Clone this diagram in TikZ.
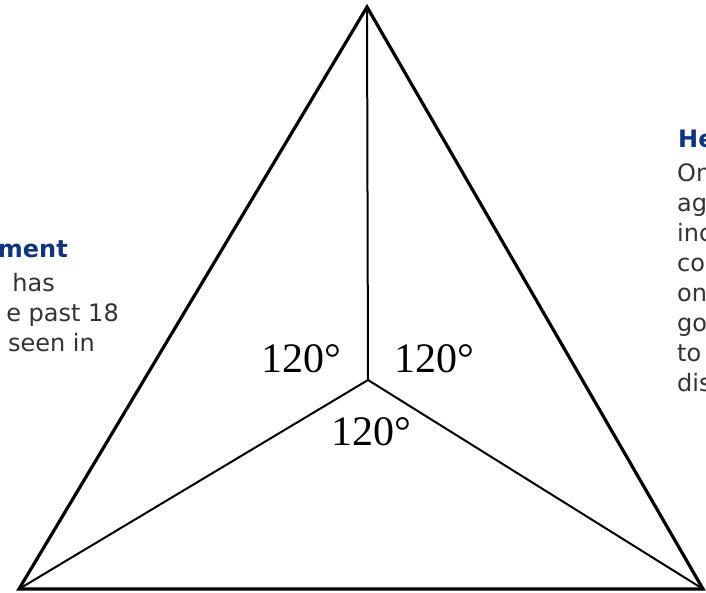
\documentclass[tikz,border=0pt]{standalone}
\usepackage{fontspec}
\setmainfont{Liberation Serif}
\newfontfamily\versans{DejaVu Sans}
\definecolor{headblue}{RGB}{14,52,130}
\definecolor{bodygray}{RGB}{51,51,51}
\begin{document}
\begin{tikzpicture}[x=1pt,y=1pt,
  edge/.style={line width=3.2pt, line join=miter},
  spoke/.style={line width=2pt},
  anglab/.style={font=\fontsize{42}{42}\selectfont, inner sep=0pt},
  bgtext/.style={font=\versans\fontsize{24}{30}\selectfont, text=bodygray, inner sep=0pt},
  bghead/.style={font=\versans\bfseries\fontsize{24}{30}\selectfont, text=headblue, inner sep=0pt}]
\useasboundingbox (0,0) rectangle (706,593);
\fill[white] (0,0) rectangle (706,593);
% background text, left
\node[bghead, anchor=base east] (l1) at (68,335) {ment};
\node[bgtext, anchor=base east] (l2) at (55,301) {has};
\node[bgtext, anchor=base east] (l3) at (119,271) {e past 18};
\node[bgtext, anchor=base east] (l4) at (95,241) {seen in};
% background text, right
\node[bghead, anchor=base west] (r0) at (678,445) {He};
\node[bgtext, anchor=base west] (r1) at (677,411) {On};
\node[bgtext, anchor=base west] (r2) at (677,381) {ag};
\node[bgtext, anchor=base west] (r3) at (677,351) {inc};
\node[bgtext, anchor=base west] (r4) at (677,321) {co};
\node[bgtext, anchor=base west] (r5) at (677,291) {on};
\node[bgtext, anchor=base west] (r6) at (677,261) {go};
\node[bgtext, anchor=base west] (r7) at (677,231) {to};
\node[bgtext, anchor=base west] (r8) at (677,201) {dis};
% triangle
\coordinate (T) at (367,586);
\coordinate (L) at (19,4);
\coordinate (R) at (703,4);
\coordinate (C) at (368,213);
\draw[spoke] (C) -- (T);
\draw[spoke] (C) -- (L);
\draw[spoke] (C) -- (R);
\draw[edge] (T) -- (L) -- (R) -- cycle;
% angle labels
\node[anglab] (a1) at (301.5,234) {120°};
\node[anglab] (a2) at (434.5,234) {120°};
\node[anglab] (a3) at (371.5,161) {120°};
\end{tikzpicture}
\end{document}
